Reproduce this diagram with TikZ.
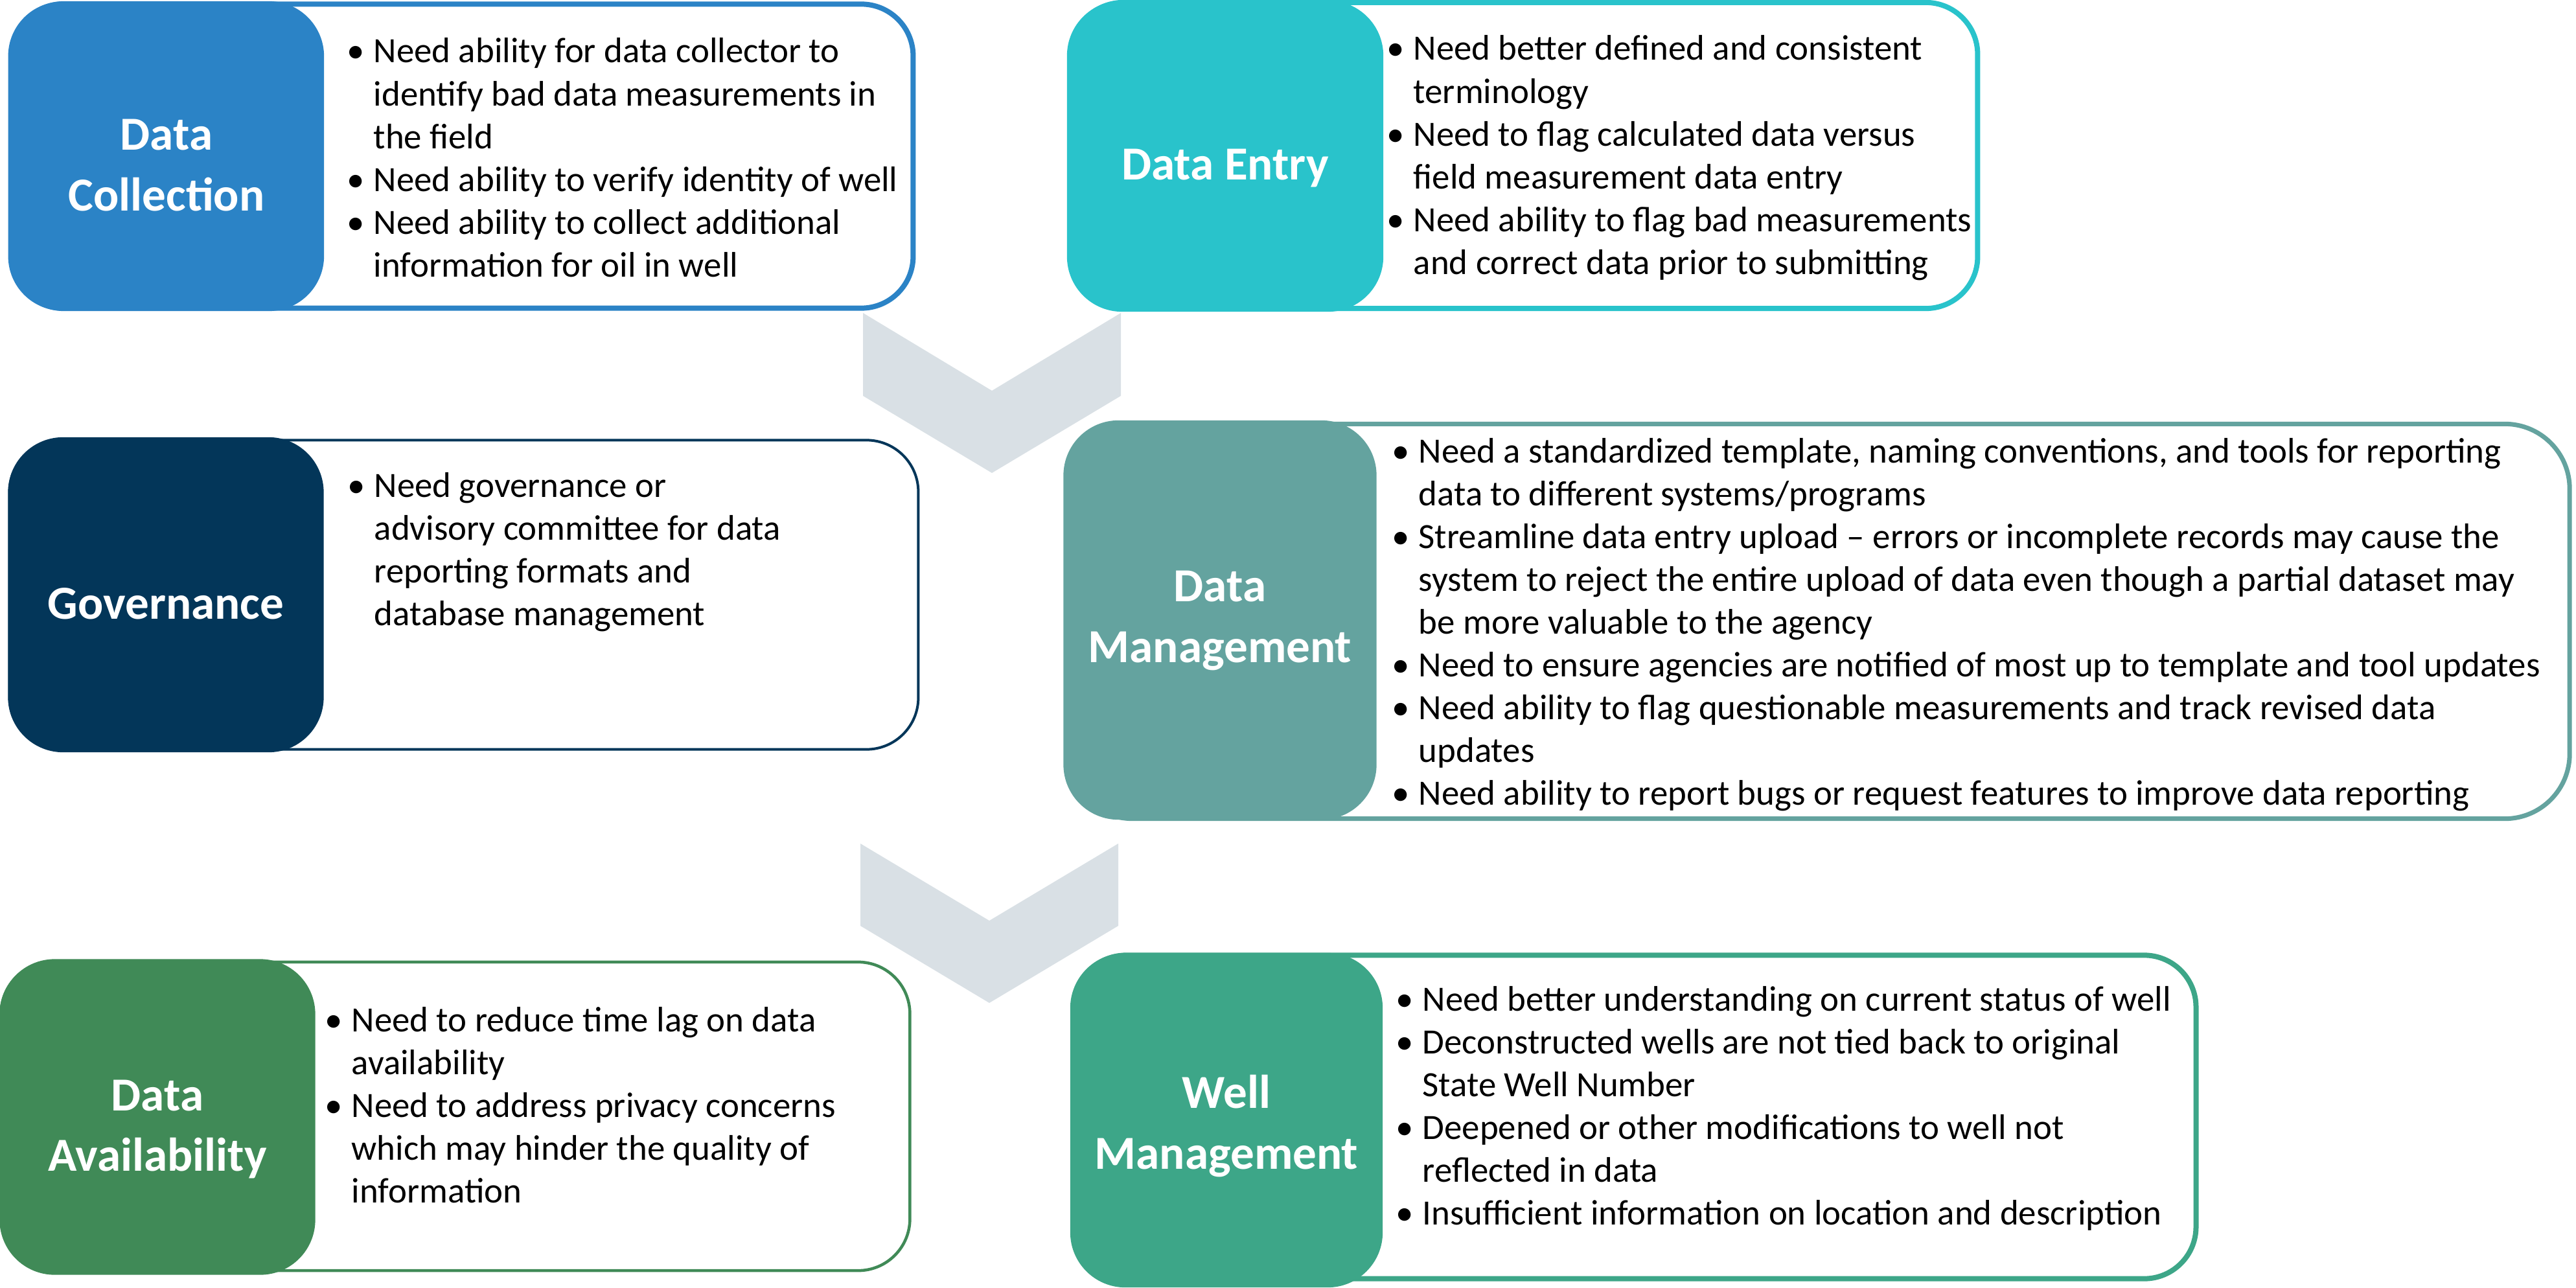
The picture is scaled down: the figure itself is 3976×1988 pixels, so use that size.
\documentclass[tikz,border=0pt]{standalone}
\usepackage{fontspec}
\setmainfont{Carlito}

\definecolor{dcblue}{HTML}{2B83C6}
\definecolor{deteal}{HTML}{29C3CB}
\definecolor{govnavy}{HTML}{033659}
\definecolor{dmsage}{HTML}{64A39F}
\definecolor{dagreen}{HTML}{408A57}
\definecolor{wmgreen}{HTML}{3DA688}
\definecolor{chevgrey}{HTML}{D9E0E5}

\newcommand{\needs}[1]{\begin{tabular}[t]{@{}p{0.41cm}@{}l@{}}#1\end{tabular}}

\begin{document}
\begin{tikzpicture}[x=0.01cm, y=-0.01cm,
  panel/.style={draw, line width=0.08cm, fill=white, rounded corners=0.8cm, inner sep=0pt},
  head/.style={rounded corners=0.85cm, inner sep=0pt},
  title/.style={text=white, font=\fontsize{20.8pt}{26.7pt}\selectfont\bfseries, align=center, yshift=-0.14cm},
  needlist/.style={inner sep=0pt, anchor=base west, font=\fontsize{15.6pt}{18.8pt}\selectfont},
  chev/.style={fill=chevgrey}]
\useasboundingbox (0,0) rectangle (3976,1988);

% chevrons between the rows
\fill[chev] (1332,483) -- ++(199,120) -- ++(199,-120) -- ++(0,128) -- ++(-199,119) -- ++(-199,-119) -- cycle;
\fill[chev] (1328,1302) -- ++(199,119) -- ++(199,-119) -- ++(0,127) -- ++(-199,119) -- ++(-199,-119) -- cycle;

% data collection
\node[panel, draw=dcblue, minimum width=13.92cm, minimum height=4.69cm] (dcpanel) at (713,241) {};
\node[head, fill=dcblue, minimum width=4.86cm, minimum height=4.78cm] (dchead) at (257,241) {};
\node[title] (dctitle) at (dchead.center) {Data\\Collection};
\node[needlist] (dclist) at (535,97) {\needs{%
\textbullet & Need ability for data collector to\\
 & identify bad data measurements in\\
 & the field\\
\textbullet & Need ability to verify identity of well\\
\textbullet & Need ability to collect additional\\
 & information for oil in well}};

% data entry
\node[panel, draw=deteal, minimum width=13.98cm, minimum height=4.72cm] (depanel) at (2353,240) {};
\node[head, fill=deteal, minimum width=4.88cm, minimum height=4.80cm] (dehead) at (1891,241) {};
\node[title, yshift=-0.05cm] (detitle) at (dehead.center) {Data Entry};
\node[needlist] (delist) at (2140,93) {\needs{%
\textbullet & Need better defined and consistent\\
 & terminology\\
\textbullet & Need to flag calculated data versus\\
 & field measurement data entry\\
\textbullet & Need ability to flag bad measurements\\
 & and correct data prior to submitting}};

% governance
\node[panel, draw=govnavy, line width=0.04cm, minimum width=14.02cm, minimum height=4.77cm] (govpanel) at (716,918) {};
\node[head, fill=govnavy, minimum width=4.87cm, minimum height=4.86cm] (govhead) at (256,918) {};
\node[title] (govtitle) at (govhead.center) {Governance};
\node[needlist] (govlist) at (536,767) {\needs{%
\textbullet & Need governance or\\
 & advisory committee for data\\
 & reporting formats and\\
 & database management}};

% data management
\node[panel, draw=dmsage, line width=0.07cm, rounded corners=1cm, minimum width=23.17cm, minimum height=6.09cm] (dmpanel) at (2807,959) {};
\node[head, fill=dmsage, minimum width=4.83cm, minimum height=6.16cm] (dmhead) at (1883,957) {};
\node[title, yshift=0.13cm] (dmtitle) at (dmhead.center) {Data\\Management};
\node[needlist] (dmlist) at (2148,714) {\needs{%
\textbullet & Need a standardized template, naming conventions, and tools for reporting\\
 & data to different systems/programs\\
\textbullet & Streamline data entry upload – errors or incomplete records may cause the\\
 & system to reject the entire upload of data even though a partial dataset may\\
 & be more valuable to the agency\\
\textbullet & Need to ensure agencies are notified of most up to template and tool updates\\
\textbullet & Need ability to flag questionable measurements and track revised data\\
 & updates\\
\textbullet & Need ability to report bugs or request features to improve data reporting}};

% data availability
\node[panel, draw=dagreen, line width=0.045cm, minimum width=14.02cm, minimum height=4.76cm] (dapanel) at (703,1723) {};
\node[head, fill=dagreen, minimum width=4.87cm, minimum height=4.87cm] (dahead) at (243,1724) {};
\node[title, yshift=-0.05cm] (datitle) at (dahead.center) {Data\\Availability};
\node[needlist] (dalist) at (501,1592) {\needs{%
\textbullet & Need to reduce time lag on data\\
 & availability\\
\textbullet & Need to address privacy concerns\\
 & which may hinder the quality of\\
 & information}};

% well management
\node[panel, draw=wmgreen, minimum width=17.30cm, minimum height=4.99cm] (wmpanel) at (2524,1724) {};
\node[head, fill=wmgreen, minimum width=4.82cm, minimum height=5.16cm] (wmhead) at (1893,1729) {};
\node[title, yshift=0.05cm] (wmtitle) at (wmhead.center) {Well\\Management};
\node[needlist] (wmlist) at (2154,1560) {\needs{%
\textbullet & Need better understanding on current status of well\\
\textbullet & Deconstructed wells are not tied back to original\\
 & State Well Number\\
\textbullet & Deepened or other modifications to well not\\
 & reflected in data\\
\textbullet & Insufficient information on location and description}};
\end{tikzpicture}
\end{document}
